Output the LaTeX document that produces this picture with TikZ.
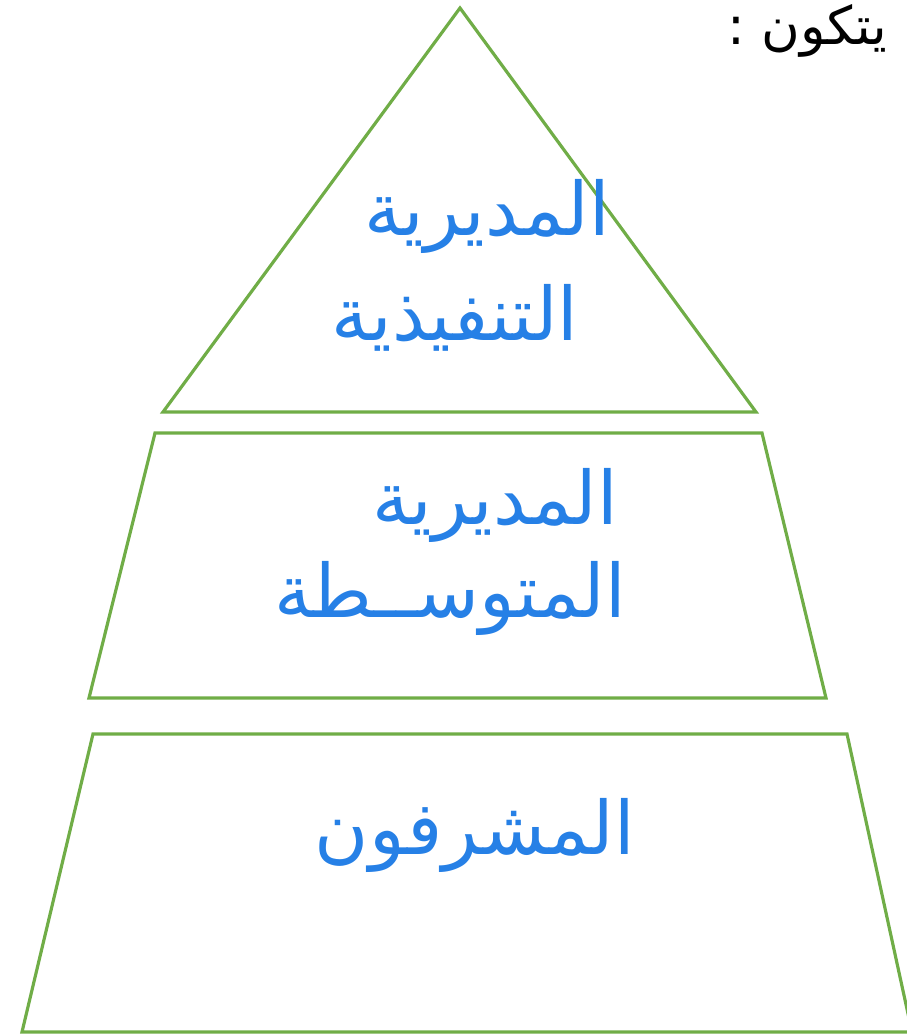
\documentclass[tikz,border=0pt]{standalone}
\usepackage{fontspec}
\TeXXeTstate=1
\newfontfamily\arabicfont[Script=Arabic]{DejaVu Sans}
\definecolor{lvlgreen}{RGB}{112,173,71}
\definecolor{handblue}{RGB}{38,128,230}
\tikzset{
  level/.style={draw=lvlgreen, line width=0.9pt, line join=miter},
  hand/.style={text=handblue, font=\arabicfont\fontsize{21}{28}\selectfont, align=center, inner sep=0pt},
  title/.style={text=black, font=\arabicfont\fontsize{15}{18}\selectfont, inner sep=0pt}
}
\begin{document}
\begin{tikzpicture}[x=0.01cm,y=-0.01cm]
\useasboundingbox (0,0) rectangle (907,1036);
\clip (0,0) rectangle (907,1036);
% top triangle
\coordinate (apex) at (460,8);
\coordinate (tl) at (163,412);
\coordinate (tr) at (756,412);
\draw[level] (apex) -- (tr) -- (tl) -- cycle;
% middle trapezoid
\coordinate (m1) at (155,433);
\coordinate (m2) at (762,433);
\coordinate (m3) at (826,698);
\coordinate (m4) at (89,698);
\draw[level] (m1) -- (m2) -- (m3) -- (m4) -- cycle;
% bottom trapezoid
\coordinate (b1) at (93,734);
\coordinate (b2) at (847,734);
\coordinate (b3) at (912,1032);
\coordinate (b4) at (22,1032);
\draw[level] (b1) -- (b2) -- (b3) -- (b4) -- cycle;
% title
\node[title, anchor=base east] (ttl) at (888,44) {\beginR يتكون :\endR};
% texts
\node[hand] (t1) at (487,216) {\beginR المديرية\endR};
\node[hand] (t2) at (455,318) {\beginR التنفيذية\endR};
\node[hand] (t3) at (495,505) {\beginR المديرية\endR};
\node[hand] (t4) at (450,598) {\beginR المتوســطة\endR};
\node[hand] (t5) at (475,835) {\beginR المشرفون\endR};
\end{tikzpicture}
\end{document}
